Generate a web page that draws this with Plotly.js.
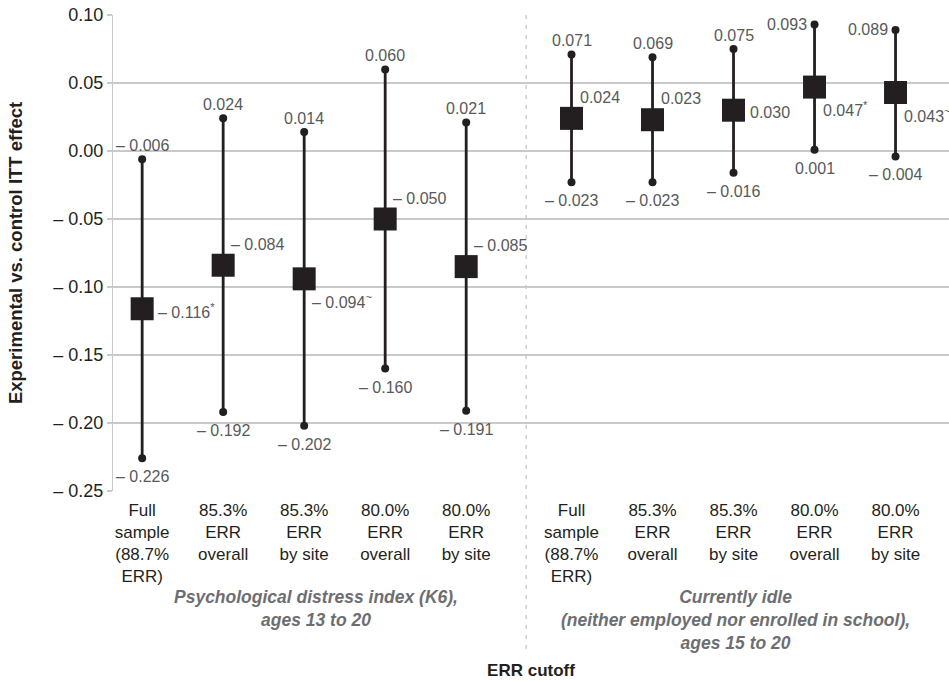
<!DOCTYPE html>
<html>
<head>
<meta charset="utf-8">
<script src="https://cdn.plot.ly/plotly-3.0.1.min.js"></script>
<style>
  html, body { margin: 0; padding: 0; background: #fff; }
  #chart { width: 949px; height: 681px; }
</style>
</head>
<body>
<div id="chart"></div>
<script>
// ---- Data ----
const categories = [
  "Full<br>sample<br>(88.7%<br>ERR)", "85.3%<br>ERR<br>overall", "85.3%<br>ERR<br>by site", "80.0%<br>ERR<br>overall", "80.0%<br>ERR<br>by site",
  "Full<br>sample<br>(88.7%<br>ERR)", "85.3%<br>ERR<br>overall", "85.3%<br>ERR<br>by site", "80.0%<br>ERR<br>overall", "80.0%<br>ERR<br>by site"
];
const estimate = [-0.116, -0.084, -0.094, -0.050, -0.085, 0.024, 0.023, 0.030, 0.047, 0.043];
const lower    = [-0.226, -0.192, -0.202, -0.160, -0.191, -0.023, -0.023, -0.016, 0.001, -0.004];
const upper    = [-0.006, 0.024, 0.014, 0.060, 0.021, 0.071, 0.069, 0.075, 0.093, 0.089];
const signif   = ["*", "", "~", "", "", "", "", "", "*", "~"];
const groupLabels = [
  "Psychological distress index (K6),<br>ages 13 to 20",
  "Currently idle<br>(neither employed nor enrolled in school),<br>ages 15 to 20"
];
const yTickVals = [0.10, 0.05, 0.00, -0.05, -0.10, -0.15, -0.20, -0.25];

// ---- Label placement (style only) ----
const estPlace = ["mid", "above", "below", "above", "above", "above", "above", "mid", "below", "below"];
const hiPlace  = ["top", "top", "top", "top", "top", "top", "top", "top", "left", "left"];

// ---- Helpers ----
const GAP = 0.3;
const xpos = categories.map((_, i) => i + (i >= 5 ? GAP : 0));
const fmt = (v, d) => (v < 0 ? "\u2013 " : "") + Math.abs(v).toFixed(d);
const INK = "#231f20";
const LABEL = "#58595b";
const FONT = "Liberation Sans, Arial, Helvetica, sans-serif";

// whiskers
const wx = [], wy = [];
xpos.forEach((x, i) => { wx.push(x, x, null); wy.push(lower[i], upper[i], null); });

const traces = [
  { type: "scatter", mode: "lines", x: wx, y: wy, line: { color: INK, width: 2.8 }, hoverinfo: "skip", showlegend: false },
  { type: "scatter", mode: "markers", x: xpos.concat(xpos), y: lower.concat(upper),
    marker: { symbol: "circle", size: 8, color: INK }, showlegend: false },
  { type: "scatter", mode: "markers", x: xpos, y: estimate,
    marker: { symbol: "square", size: 23, color: INK }, showlegend: false }
];

const ann = [];
xpos.forEach((x, i) => {
  const p = estPlace[i];
  const sig = signif[i] ? "<sup>" + signif[i] + "</sup>" : "";
  ann.push({
    x: x, y: estimate[i], xref: "x", yref: "y",
    text: fmt(estimate[i], 3) + sig, showarrow: false,
    xanchor: "left", yanchor: "middle",
    xshift: p === "mid" ? 14 : 6,
    yshift: p === "mid" ? -2 : (p === "above" ? 21 : -22),
    font: { family: FONT, size: 16, color: LABEL }
  });
  if (hiPlace[i] === "top") {
    ann.push({ x: x, y: upper[i], xref: "x", yref: "y", text: fmt(upper[i], 3), showarrow: false,
      xanchor: "center", yanchor: "bottom", yshift: 3, font: { family: FONT, size: 16, color: LABEL } });
  } else {
    ann.push({ x: x, y: upper[i], xref: "x", yref: "y", text: fmt(upper[i], 3), showarrow: false,
      xanchor: "right", yanchor: "middle", xshift: -6, font: { family: FONT, size: 16, color: LABEL } });
  }
  ann.push({ x: x, y: lower[i], xref: "x", yref: "y", text: fmt(lower[i], 3), showarrow: false,
    xanchor: "center", yanchor: "top", yshift: -8, font: { family: FONT, size: 16, color: LABEL } });
});

// group labels
ann.push({ x: 2.15, y: -0.198, xref: "x", yref: "paper", text: "<b><i>" + groupLabels[0] + "</i></b>",
  showarrow: false, xanchor: "center", yanchor: "top", font: { family: FONT, size: 17.5, color: "#6d6e71" } });
ann.push({ x: 5 + GAP + 2.02, y: -0.198, xref: "x", yref: "paper", text: "<b><i>" + groupLabels[1] + "</i></b>",
  showarrow: false, xanchor: "center", yanchor: "top", font: { family: FONT, size: 17.5, color: "#6d6e71" } });

const layout = {
  width: 949, height: 681,
  margin: { l: 113, r: 0, t: 15, b: 190 },
  paper_bgcolor: "#fff", plot_bgcolor: "#fff",
  font: { family: FONT, color: INK },
  showlegend: false,
  xaxis: {
    range: [-0.36, 9.96],
    tickmode: "array", tickvals: xpos, ticktext: categories,
    tickfont: { family: FONT, size: 17, color: INK },
    showgrid: false, zeroline: false, showline: false, ticks: "",
    ticklabelstandoff: 7,
    automargin: false,
    title: { text: "<b>ERR cutoff</b>", font: { family: FONT, size: 17, color: INK }, standoff: 78 }
  },
  yaxis: {
    range: [-0.25, 0.10],
    tickmode: "array", tickvals: yTickVals, ticktext: yTickVals.map(v => fmt(v, 2)),
    tickfont: { family: FONT, size: 18, color: INK },
    showgrid: true, gridcolor: "#c9c9c9", gridwidth: 1.2,
    zeroline: false, showline: true, linecolor: "#c9c9c9", linewidth: 1.2,
    ticks: "outside", ticklen: 5, tickcolor: "#c9c9c9", tickwidth: 1.2,
    automargin: false,
    title: { text: "<b>Experimental vs. control ITT effect</b>", font: { family: FONT, size: 18.5, color: INK }, standoff: 25 }
  },
  shapes: [
    { type: "line", xref: "x", yref: "paper", x0: 4.74, x1: 4.74, y0: 1, y1: -0.345,
      line: { color: "#b5b5b5", width: 1, dash: "4px,6px" }, layer: "below" }
  ],
  annotations: ann
};

Plotly.newPlot("chart", traces, layout, { displayModeBar: false, staticPlot: true });
</script>
</body>
</html>
